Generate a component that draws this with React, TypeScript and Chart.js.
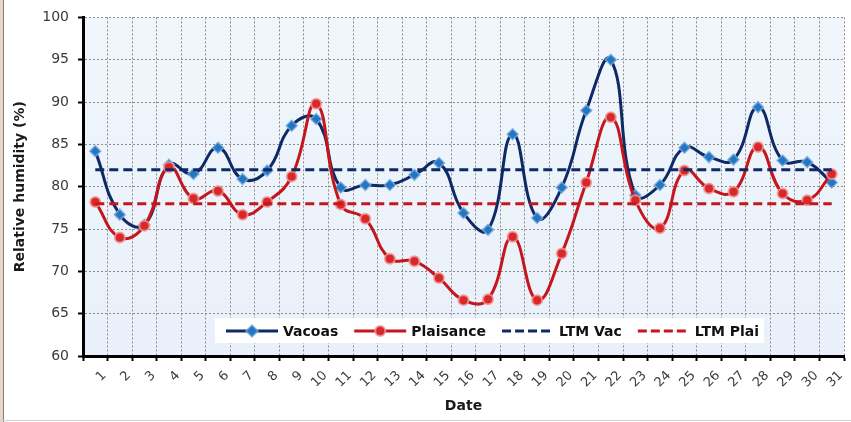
import React, { useEffect, useRef } from "react";
import { Chart, registerables } from "chart.js";

Chart.register(...registerables);

const days = ["1","2","3","4","5","6","7","8","9","10","11","12","13","14","15","16","17","18","19","20","21","22","23","24","25","26","27","28","29","30","31"];
const vacoas = [84.2, 76.7, 75.5, 82.6, 81.5, 84.6, 80.9, 81.9, 87.2, 88.0, 79.9, 80.2, 80.2, 81.4, 82.8, 76.9, 74.9, 86.2, 76.3, 79.9, 89.0, 95.0, 79.0, 80.2, 84.6, 83.5, 83.2, 89.4, 83.1, 82.9, 80.5];
const plaisance = [78.2, 74.0, 75.4, 82.3, 78.6, 79.5, 76.7, 78.2, 81.2, 89.8, 77.9, 76.2, 71.5, 71.2, 69.2, 66.6, 66.7, 74.1, 66.6, 72.1, 80.5, 88.2, 78.4, 75.1, 81.9, 79.8, 79.4, 84.7, 79.2, 78.4, 81.5];
const ltmVac = [82,82,82,82,82,82,82,82,82,82,82,82,82,82,82,82,82,82,82,82,82,82,82,82,82,82,82,82,82,82,82];
const ltmPlai = [78,78,78,78,78,78,78,78,78,78,78,78,78,78,78,78,78,78,78,78,78,78,78,78,78,78,78,78,78,78,78];
const yTicks = [60, 65, 70, 75, 80, 85, 90, 95, 100];

const NAVY = "#0e2a66";
const NAVY_MARK = "#2277c0";
const RED = "#c4161c";
const RED_MARK = "#d8282a";

const legendItems = [
  { label: "Vacoas", color: NAVY, dash: [] as number[], marker: "diamond" },
  { label: "Plaisance", color: RED, dash: [] as number[], marker: "circle" },
  { label: "LTM Vac", color: NAVY, dash: [9, 4], marker: "" },
  { label: "LTM Plai", color: RED, dash: [9, 4], marker: "" },
];

const bgPlugin = {
  id: "plotBg",
  beforeDraw(chart: any) {
    const { ctx, chartArea: a } = chart;
    ctx.save();
    const g = ctx.createLinearGradient(0, a.top, 0, a.bottom);
    g.addColorStop(0, "#f1f6fc");
    g.addColorStop(1, "#e9f0f9");
    ctx.fillStyle = g;
    ctx.fillRect(a.left, a.top, a.right - a.left, a.bottom - a.top);
    ctx.restore();
  },
};

function drawDiamond(ctx: CanvasRenderingContext2D, x: number, y: number, r: number) {
  ctx.beginPath();
  ctx.moveTo(x, y - r);
  ctx.lineTo(x + r, y);
  ctx.lineTo(x, y + r);
  ctx.lineTo(x - r, y);
  ctx.closePath();
}

const legendPlugin = {
  id: "insideLegend",
  afterDraw(chart: any) {
    const { ctx, chartArea: a } = chart;
    ctx.save();
    ctx.font = "bold 14px 'DejaVu Sans'";
    const startX = a.left + 143;
    const cy = a.bottom - 25;
    const lineLen = 52;
    const gap = 16;
    let widths = legendItems.map((it) => ctx.measureText(it.label).width);
    let total = 0;
    widths.forEach((w, i) => {
      total += lineLen + 5 + w + (i < widths.length - 1 ? gap : 0);
    });
    ctx.fillStyle = "rgba(255,255,255,0.97)";
    ctx.fillRect(startX - 11, cy - 13, total + 16, 25);
    let x = startX;
    legendItems.forEach((it, i) => {
      ctx.strokeStyle = it.color;
      ctx.lineWidth = 3;
      ctx.setLineDash(it.dash);
      ctx.beginPath();
      ctx.moveTo(x, cy);
      ctx.lineTo(x + lineLen, cy);
      ctx.stroke();
      ctx.setLineDash([]);
      const mx = x + lineLen / 2;
      if (it.marker === "diamond") {
        drawDiamond(ctx, mx, cy, 6);
        ctx.fillStyle = NAVY_MARK;
        ctx.fill();
        ctx.lineWidth = 1.5;
        ctx.strokeStyle = "rgba(120,170,225,0.8)";
        ctx.stroke();
      } else if (it.marker === "circle") {
        ctx.beginPath();
        ctx.arc(mx, cy, 5, 0, Math.PI * 2);
        ctx.fillStyle = RED_MARK;
        ctx.fill();
        ctx.lineWidth = 2;
        ctx.strokeStyle = "rgba(240,150,150,0.8)";
        ctx.stroke();
      }
      ctx.fillStyle = "#111";
      ctx.textBaseline = "middle";
      ctx.textAlign = "left";
      ctx.fillText(it.label, x + lineLen + 5, cy + 1);
      x += lineLen + 5 + widths[i] + gap;
    });
    ctx.restore();
  },
};

export default function App() {
  const ref = useRef<HTMLCanvasElement | null>(null);

  useEffect(() => {
    if (!ref.current) return;
    const chart = new Chart(ref.current, {
      type: "line",
      data: {
        labels: days,
        datasets: [
          {
            label: "Vacoas",
            data: vacoas,
            borderColor: NAVY,
            borderWidth: 3,
            tension: 0.45,
            pointStyle: "rectRot",
            pointRadius: 5.5,
            pointBackgroundColor: NAVY_MARK,
            pointBorderColor: "rgba(120,170,225,0.8)",
            pointBorderWidth: 1.5,
            order: 4,
          },
          {
            label: "Plaisance",
            data: plaisance,
            borderColor: RED,
            borderWidth: 3,
            tension: 0.45,
            pointStyle: "circle",
            pointRadius: 5,
            pointBackgroundColor: RED_MARK,
            pointBorderColor: "rgba(240,150,150,0.8)",
            pointBorderWidth: 2,
            order: 3,
          },
          {
            label: "LTM Vac",
            data: ltmVac,
            borderColor: NAVY,
            borderWidth: 3,
            borderDash: [9, 5],
            pointRadius: 0,
            tension: 0,
            order: 2,
          },
          {
            label: "LTM Plai",
            data: ltmPlai,
            borderColor: RED,
            borderWidth: 3,
            borderDash: [9, 5],
            pointRadius: 0,
            tension: 0,
            order: 1,
          },
        ],
      },
      options: {
        animation: false,
        responsive: false,
        maintainAspectRatio: false,
        layout: { padding: { top: 16, right: 3, left: 0, bottom: 0 } },
        plugins: {
          legend: { display: false },
          tooltip: { enabled: false },
        },
        scales: {
          x: {
            type: "category",
            offset: true,
            afterFit: (s: any) => {
              s.height = 66;
            },
            grid: {
              offset: true,
              color: "#8c8c8c",
              lineWidth: 1,
              drawTicks: true,
              tickLength: 5,
              tickColor: "#000",
              tickWidth: 2,
            },
            border: { display: true, color: "#000", width: 3, dash: [2, 2] },
            ticks: {
              autoSkip: false,
              minRotation: 45,
              maxRotation: 45,
              padding: 7,
              labelOffset: 9,
              color: "#3a3a3a",
              font: { family: "'DejaVu Sans'", size: 13 },
            },
            title: {
              display: true,
              text: "Date",
              color: "#1a1a1a",
              font: { family: "'DejaVu Sans'", size: 14, weight: "bold" },
              padding: { top: 0, bottom: 7 },
            },
          },
          y: {
            min: 60,
            max: 100,
            afterFit: (s: any) => {
              s.width = 83;
            },
            afterBuildTicks: (s: any) => {
              s.ticks = yTicks.map((v) => ({ value: v }));
            },
            grid: {
              color: "#8c8c8c",
              lineWidth: 1,
              drawTicks: true,
              tickLength: 5,
              tickColor: "#000",
              tickWidth: 2,
            },
            border: { display: true, color: "#000", width: 3, dash: [2, 2] },
            ticks: {
              padding: 9,
              color: "#3a3a3a",
              font: { family: "'DejaVu Sans'", size: 14 },
            },
            title: {
              display: true,
              text: "Relative humidity (%)",
              color: "#1a1a1a",
              font: { family: "'DejaVu Sans'", size: 14, weight: "bold" },
              padding: { top: 12, bottom: 0 },
            },
          },
        },
      },
      plugins: [bgPlugin, legendPlugin],
    } as any);
    return () => chart.destroy();
  }, []);

  return (
    <div
      style={{
        position: "fixed",
        left: 0,
        top: 0,
        width: 851,
        height: 422,
        background: "#fff",
        overflow: "hidden",
      }}
    >
      <canvas ref={ref} width={851} height={422} style={{ display: "block" }} />
      <div style={{ position: "absolute", left: 0, top: 0, width: 3, height: 422, background: "#e8d6c6" }} />
      <div style={{ position: "absolute", left: 3, top: 0, width: 1, height: 422, background: "#808080" }} />
      <div style={{ position: "absolute", left: 0, top: 420, width: 851, height: 1, background: "#d0d0d0" }} />
    </div>
  );
}
